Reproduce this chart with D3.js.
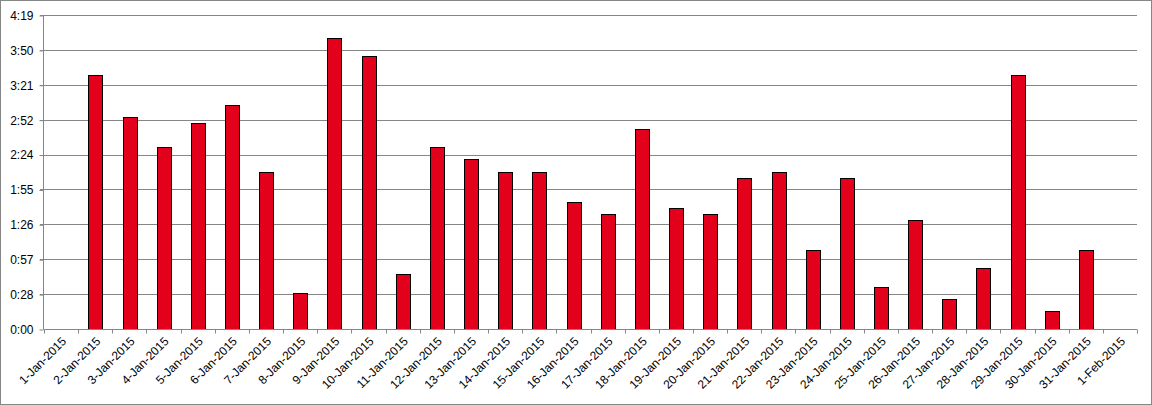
<!DOCTYPE html>
<html>
<head>
<meta charset="utf-8">
<script src="https://cdn.jsdelivr.net/npm/d3@7"></script>
<style>
  html, body { margin: 0; padding: 0; background: #fff; }
  svg { display: block; }
  text { font-family: "Liberation Sans", Arial, sans-serif; font-size: 12px; fill: #000; }
</style>
</head>
<body>
<svg id="chart" width="1152" height="405"></svg>
<script>
// Categories (dates)
const categories = ["1-Jan-2015","2-Jan-2015","3-Jan-2015","4-Jan-2015","5-Jan-2015","6-Jan-2015","7-Jan-2015","8-Jan-2015","9-Jan-2015","10-Jan-2015","11-Jan-2015","12-Jan-2015","13-Jan-2015","14-Jan-2015","15-Jan-2015","16-Jan-2015","17-Jan-2015","18-Jan-2015","19-Jan-2015","20-Jan-2015","21-Jan-2015","22-Jan-2015","23-Jan-2015","24-Jan-2015","25-Jan-2015","26-Jan-2015","27-Jan-2015","28-Jan-2015","29-Jan-2015","30-Jan-2015","31-Jan-2015","1-Feb-2015"];
// Duration per day, in minutes (null = no bar)
const durations = [null,210,175,150,170,185,130,30,240,225,45,150,140,130,130,105,95,165,100,95,125,130,65,125,35,90,25,50,210,15,65,null];
// Y tick values (in minutes) and their labels (h:mm)
const yTickValues = [0,28.8,57.6,86.4,115.2,144,172.8,201.6,230.4,259.2];
const yTickLabels = ["0:00","0:28","0:57","1:26","1:55","2:24","2:52","3:21","3:50","4:19"];

const svg = d3.select("#chart");
const W = 1152, H = 405;
const margin = {left: 44, right: 15, top: 15, bottom: 76};

// outer border
svg.append("rect").attr("x",0.5).attr("y",0.5).attr("width",W-1).attr("height",H-1)
  .attr("fill","#fff").attr("stroke","#868686");

const x = d3.scaleBand().domain(categories)
  .range([margin.left, W - margin.right]).paddingInner(0.6).paddingOuter(0.3);
const xb = d3.scaleLinear().domain([0, categories.length]).range([margin.left, W - margin.right]);
const y = d3.scaleLinear().domain([0, 259.2]).range([H - margin.bottom - 0, margin.top]);

const crisp = v => Math.round(v) + 0.5;

// gridlines
svg.append("g").selectAll("line").data(yTickValues.slice(1)).join("line")
  .attr("x1", margin.left - 4).attr("x2", W - margin.right)
  .attr("y1", d => crisp(y(d))).attr("y2", d => crisp(y(d)))
  .attr("stroke","#868686").attr("stroke-width",1);

// bars
svg.append("g").selectAll("rect").data(categories.map((c,i)=>({c, v: durations[i]})).filter(d => d.v != null))
  .join("rect")
  .attr("x", d => crisp(x(d.c)))
  .attr("y", d => crisp(y(d.v)))
  .attr("width", d => Math.round(x.bandwidth()))
  .attr("height", d => Math.round(y(0)) - Math.round(y(d.v)))
  .attr("fill","#E2001A").attr("stroke","#000").attr("stroke-width",1);

// y axis
const yAxis = d3.axisLeft(y).tickValues(yTickValues)
  .tickFormat((d,i) => yTickLabels[i]).tickSize(4).tickPadding(6);
const gy = svg.append("g").attr("transform", `translate(${crisp(margin.left)-1},0.5)`).call(yAxis);
gy.selectAll("path, line").attr("stroke","#868686");
gy.select(".domain").attr("d", `M0,${Math.round(y(259.2))}V${Math.round(y(0))}`);
gy.selectAll("text").attr("font-size",12).attr("fill","#000").style("font-family","Liberation Sans, Arial, sans-serif");

// x axis line
svg.append("line").attr("x1", margin.left).attr("x2", W - margin.right)
  .attr("y1", crisp(y(0))).attr("y2", crisp(y(0))).attr("stroke","#868686");
// x tick marks at category boundaries
svg.append("g").selectAll("line").data(d3.range(categories.length + 1)).join("line")
  .attr("x1", d => crisp(xb(d))).attr("x2", d => crisp(xb(d)))
  .attr("y1", crisp(y(0))).attr("y2", crisp(y(0)) + 4)
  .attr("stroke","#868686");
// x labels
svg.append("g").selectAll("text").data(categories).join("text")
  .attr("transform", d => `translate(${x(d) + x.bandwidth()/2 + 3},${y(0) + 10}) rotate(-45)`)
  .attr("text-anchor","end").attr("dy","0.35em")
  .text(d => d);
</script>
</body>
</html>
